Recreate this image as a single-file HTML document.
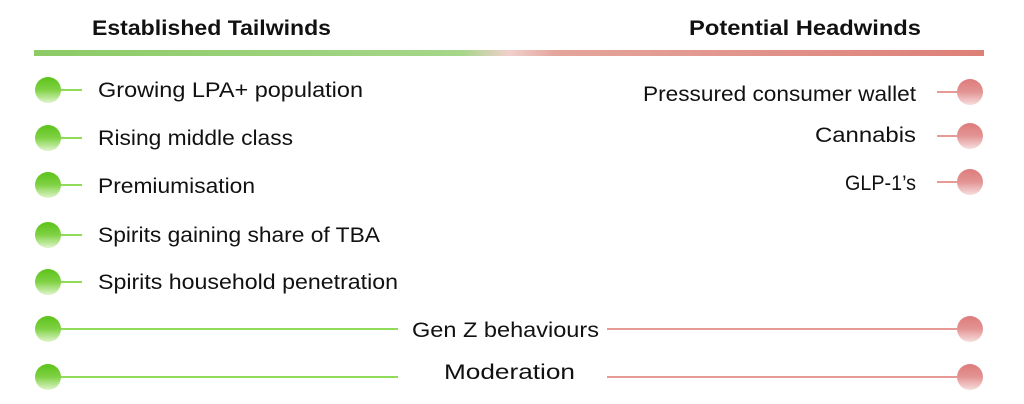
<!DOCTYPE html>
<html><head><meta charset="utf-8"><style>
html,body{margin:0;padding:0;background:#fff;}
svg{display:block;}
text{font-family:"Liberation Sans",sans-serif;fill:#111;}
</style></head><body>
<svg width="1024" height="404" viewBox="0 0 1024 404" xmlns="http://www.w3.org/2000/svg">
<defs>
<linearGradient id="bar" x1="0" x2="1" y1="0" y2="0">
<stop offset="0" stop-color="#8ccb66"/><stop offset="0.45" stop-color="#a6d68a"/>
<stop offset="0.5" stop-color="#f0d0cc"/><stop offset="0.55" stop-color="#e4a59c"/>
<stop offset="1" stop-color="#dd8078"/></linearGradient>
<linearGradient id="g" x1="0" x2="0" y1="0" y2="1">
<stop offset="0" stop-color="#5cc21a"/><stop offset="0.5" stop-color="#80d245"/><stop offset="1" stop-color="#e0f5cc"/></linearGradient>
<linearGradient id="r" x1="0" x2="0" y1="0" y2="1">
<stop offset="0" stop-color="#de7b7b"/><stop offset="0.5" stop-color="#e39494"/><stop offset="1" stop-color="#f7dede"/></linearGradient>
</defs>
<text x="92" y="35" font-size="21" font-weight="bold" textLength="239" lengthAdjust="spacingAndGlyphs">Established Tailwinds</text>
<text x="689" y="35" font-size="21" font-weight="bold" textLength="232" lengthAdjust="spacingAndGlyphs">Potential Headwinds</text>
<rect x="34" y="50" width="950" height="6" fill="url(#bar)"/>
<g stroke="#8fdc5a" stroke-width="2">
<line x1="55" y1="90" x2="82" y2="90"/><line x1="55" y1="138" x2="82" y2="138"/>
<line x1="55" y1="185" x2="82" y2="185"/><line x1="55" y1="235" x2="82" y2="235"/>
<line x1="55" y1="282" x2="82" y2="282"/>
<line x1="55" y1="329" x2="398" y2="329"/><line x1="55" y1="377" x2="398" y2="377"/>
</g>
<g stroke="#e89a96" stroke-width="2">
<line x1="937" y1="92" x2="965" y2="92"/><line x1="937" y1="136" x2="965" y2="136"/>
<line x1="937" y1="182" x2="965" y2="182"/>
<line x1="607" y1="329" x2="965" y2="329"/><line x1="607" y1="377" x2="965" y2="377"/>
</g>
<g fill="url(#g)">
<circle cx="48" cy="90" r="13"/><circle cx="48" cy="138" r="13"/><circle cx="48" cy="185" r="13"/>
<circle cx="48" cy="235" r="13"/><circle cx="48" cy="282" r="13"/><circle cx="48" cy="329" r="13"/>
<circle cx="48" cy="377" r="13"/>
</g>
<g fill="url(#r)">
<circle cx="970" cy="92" r="13"/><circle cx="970" cy="136" r="13"/><circle cx="970" cy="182" r="13"/>
<circle cx="970" cy="329" r="13"/><circle cx="970" cy="377" r="13"/>
</g>
<g font-size="21" lengthAdjust="spacingAndGlyphs">
<text x="98" y="97" textLength="265" lengthAdjust="spacingAndGlyphs">Growing LPA+ population</text>
<text x="98" y="145" textLength="195" lengthAdjust="spacingAndGlyphs">Rising middle class</text>
<text x="98" y="193" textLength="157" lengthAdjust="spacingAndGlyphs">Premiumisation</text>
<text x="98" y="242" textLength="282" lengthAdjust="spacingAndGlyphs">Spirits gaining share of TBA</text>
<text x="98" y="289" textLength="300" lengthAdjust="spacingAndGlyphs">Spirits household penetration</text>
<text x="643" y="101" textLength="273" lengthAdjust="spacingAndGlyphs">Pressured consumer wallet</text>
<text x="815" y="142" textLength="101" lengthAdjust="spacingAndGlyphs">Cannabis</text>
<text x="845" y="190" textLength="71" lengthAdjust="spacingAndGlyphs">GLP-1’s</text>
<text x="412" y="337" textLength="187" lengthAdjust="spacingAndGlyphs">Gen Z behaviours</text>
<text x="444" y="379" textLength="131" lengthAdjust="spacingAndGlyphs">Moderation</text>
</g>
</svg>
</body></html>
